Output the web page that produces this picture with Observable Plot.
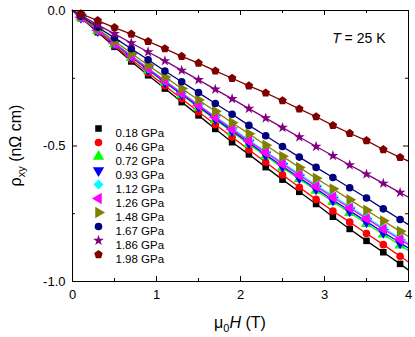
<!DOCTYPE html>
<html><head><meta charset="utf-8">
<script src="https://cdn.jsdelivr.net/npm/d3@7"></script>
<script src="https://cdn.jsdelivr.net/npm/@observablehq/plot@0.6"></script>
<style>
body{margin:0;background:#fff}
#chart{width:415px;height:337px}
</style>
</head><body><div id="chart"></div>
<script>
// field values (T)
const fieldT = [0.1,0.3,0.5,0.7,0.9,1.1,1.3,1.5,1.7,1.9,2.1,2.3,2.5,2.7,2.9,3.1,3.3,3.5,3.7,3.9];
const pressures = ["0.18 GPa","0.46 GPa","0.72 GPa","0.93 GPa","1.12 GPa","1.26 GPa","1.48 GPa","1.67 GPa","1.86 GPa","1.98 GPa"];
const colors = ["#000000","#ff0000","#00ff00","#0000ff","#00ffff","#ff00ff","#808000","#000080","#800080","#800000"];
const symbolNames = ["square","circle","triangleUp","triangleDown","diamond","triangleLeft","triangleRight","circle","star","pentagon"];
const symbolR = [3.7,3.8,4.2,4.2,4.0,4.2,4.2,3.8,3.4,3.9];
// rho_xy (nOhm cm)
const rho018 = [-0.027,-0.080,-0.134,-0.188,-0.239,-0.288,-0.338,-0.387,-0.437,-0.486,-0.531,-0.578,-0.624,-0.669,-0.714,-0.761,-0.806,-0.850,-0.892,-0.935];
const rho046 = [-0.026,-0.077,-0.129,-0.181,-0.230,-0.278,-0.326,-0.374,-0.421,-0.467,-0.514,-0.560,-0.606,-0.652,-0.697,-0.740,-0.781,-0.823,-0.864,-0.907];
const rho072 = [-0.025,-0.074,-0.124,-0.173,-0.220,-0.266,-0.312,-0.358,-0.403,-0.448,-0.493,-0.537,-0.580,-0.622,-0.664,-0.706,-0.746,-0.787,-0.826,-0.866];
const rho093 = [-0.025,-0.074,-0.123,-0.171,-0.218,-0.264,-0.309,-0.354,-0.399,-0.444,-0.488,-0.532,-0.575,-0.617,-0.658,-0.699,-0.739,-0.779,-0.818,-0.857];
const rho112 = [-0.024,-0.072,-0.120,-0.167,-0.213,-0.258,-0.303,-0.347,-0.391,-0.435,-0.478,-0.520,-0.562,-0.603,-0.644,-0.684,-0.724,-0.763,-0.802,-0.840];
const rho126 = [-0.025,-0.073,-0.121,-0.168,-0.214,-0.260,-0.305,-0.350,-0.394,-0.438,-0.482,-0.524,-0.566,-0.608,-0.649,-0.689,-0.729,-0.768,-0.807,-0.845];
const rho148 = [-0.023,-0.068,-0.113,-0.158,-0.202,-0.245,-0.288,-0.330,-0.372,-0.414,-0.455,-0.497,-0.538,-0.579,-0.619,-0.658,-0.698,-0.737,-0.776,-0.815];
const rho167 = [-0.021,-0.062,-0.101,-0.141,-0.182,-0.223,-0.263,-0.303,-0.343,-0.383,-0.424,-0.462,-0.502,-0.541,-0.579,-0.616,-0.654,-0.692,-0.732,-0.771];
const rho186 = [-0.018,-0.053,-0.086,-0.120,-0.153,-0.186,-0.221,-0.256,-0.291,-0.326,-0.362,-0.397,-0.432,-0.467,-0.502,-0.536,-0.570,-0.604,-0.638,-0.672];
const rho198 = [-0.012,-0.037,-0.063,-0.087,-0.114,-0.141,-0.169,-0.194,-0.223,-0.250,-0.278,-0.304,-0.333,-0.363,-0.392,-0.424,-0.453,-0.480,-0.513,-0.542];
// fit lines: start at origin, value at 4 T
const fitStart = {x: 0, y: 0};
const fitEndX = 4;
const fitEnd = [-0.958,-0.928,-0.886,-0.877,-0.859,-0.864,-0.834,-0.790,-0.689,-0.556];
// ticks
const xMajor = [0,1,2,3,4], xMinor = [0.5,1.5,2.5,3.5];
const yMajor = [0,-0.5,-1.0], yMinor = [-0.25,-0.75];

const allRho = [rho018,rho046,rho072,rho093,rho112,rho126,rho148,rho167,rho186,rho198];

// custom symbols
const s3 = Math.sqrt(3);
const sym = {
  square: d3.symbolSquare,
  circle: d3.symbolCircle,
  star: d3.symbolStar,
  triangleUp: {draw(c, size){const a=Math.sqrt(size/(s3*3)); c.moveTo(0,-2*a); c.lineTo(s3*a,a); c.lineTo(-s3*a,a); c.closePath();}},
  triangleDown: {draw(c, size){const a=Math.sqrt(size/(s3*3)); c.moveTo(0,2*a); c.lineTo(s3*a,-a); c.lineTo(-s3*a,-a); c.closePath();}},
  triangleLeft: {draw(c, size){const a=Math.sqrt(size/(s3*3)); c.moveTo(-2*a,0); c.lineTo(a,-s3*a); c.lineTo(a,s3*a); c.closePath();}},
  triangleRight: {draw(c, size){const a=Math.sqrt(size/(s3*3)); c.moveTo(2*a,0); c.lineTo(-a,-s3*a); c.lineTo(-a,s3*a); c.closePath();}},
  diamond: {draw(c, size){const r=Math.sqrt(size/2); c.moveTo(0,-r); c.lineTo(r,0); c.lineTo(0,r); c.lineTo(-r,0); c.closePath();}},
  pentagon: {draw(c, size){const R=Math.sqrt(size/(2.5*Math.sin(2*Math.PI/5))); for(let k=0;k<5;k++){const t=-Math.PI/2+k*2*Math.PI/5; const px=R*Math.cos(t), py=R*Math.sin(t); if(k===0)c.moveTo(px,py); else c.lineTo(px,py);} c.closePath();}}
};

const W = 415, H = 337, mL = 72, mR = 7, mT = 10, mB = 56;
const FW = W - mL - mR, FH = H - mT - mB;

const marks = [];
pressures.forEach((label, i) => {
  const pts = allRho[i].map((v, j) => ({x: fieldT[j], y: v}));
  const fit = [fitStart, ...pts, {x: fitEndX, y: fitEnd[i]}];
  marks.push(Plot.line(fit, {x: "x", y: "y", stroke: colors[i], strokeWidth: 1.3}));
  marks.push(Plot.dot(pts, {x: "x", y: "y", fill: colors[i], r: symbolR[i], symbol: sym[symbolNames[i]]}));
  marks.push(Plot.dot([label], {frameAnchor: "top-left", dx: 26, dy: 118 + 14 * i, fill: colors[i], r: symbolR[i], symbol: sym[symbolNames[i]]}));
  marks.push(Plot.text([label], {frameAnchor: "top-left", dx: 43, dy: 118 + 14 * i, text: d => d, textAnchor: "start", fontSize: 11.5, fill: "black"}));
});

const chart = Plot.plot({
  width: W, height: H,
  marginLeft: mL, marginRight: mR, marginTop: mT, marginBottom: mB,
  style: {fontFamily: "'Liberation Sans', Arial, sans-serif", fontSize: "13px", background: "white", color: "black"},
  x: {domain: [0, 4], label: null},
  y: {domain: [-1, 0], label: null},
  marks: [
    ...marks,
    Plot.frame({stroke: "black", strokeWidth: 1}),
    Plot.tickX(xMajor, {x: d => d, insetTop: FH - 5, stroke: "black"}),
    Plot.tickX(xMajor, {x: d => d, insetBottom: FH - 5, stroke: "black"}),
    Plot.tickX(xMinor, {x: d => d, insetTop: FH - 3, stroke: "black"}),
    Plot.tickX(xMinor, {x: d => d, insetBottom: FH - 3, stroke: "black"}),
    Plot.tickY(yMajor, {y: d => d, insetRight: FW - 5, stroke: "black"}),
    Plot.tickY(yMajor, {y: d => d, insetLeft: FW - 5, stroke: "black"}),
    Plot.tickY(yMinor, {y: d => d, insetRight: FW - 3, stroke: "black"}),
    Plot.tickY(yMinor, {y: d => d, insetLeft: FW - 3, stroke: "black"}),
    Plot.axisX({ticks: xMajor, tickSize: 0, tickPadding: 8, label: null, tickFormat: d => String(d)}),
    Plot.axisY({ticks: yMajor, tickSize: 0, tickPadding: 7, label: null, tickFormat: d => d.toFixed(1)}),
    Plot.text(["T = 25 K"], {frameAnchor: "top-right", dx: -23, dy: 23, text: d => d, textAnchor: "end", fontSize: 14, fill: "black"})
  ]
});
document.getElementById("chart").appendChild(chart);

const svg = d3.select(chart);
// italic T
svg.selectAll("text").filter(function(){ return this.textContent === "T = 25 K"; }).each(function(){
  const t = d3.select(this);
  const tp = t.select("tspan");
  const target = tp.empty() ? t : tp;
  target.text(null);
  target.append("tspan").attr("font-style", "italic").text("T");
  target.append("tspan").text(" = 25 K");
});
// x label
const xl = svg.append("text").attr("x", mL + FW / 2).attr("y", 328).attr("text-anchor", "middle")
  .attr("font-family", "'Liberation Sans', Arial, sans-serif").attr("font-size", 16).attr("fill", "black");
xl.append("tspan").text("μ");
xl.append("tspan").attr("font-size", 11).attr("dy", 4).text("0");
xl.append("tspan").attr("dy", -4).attr("font-style", "italic").text("H");
xl.append("tspan").text(" (T)");
// y label
const yl = svg.append("text").attr("transform", `translate(21,${mT + FH / 2}) rotate(-90)`).attr("text-anchor", "middle")
  .attr("font-family", "'Liberation Sans', Arial, sans-serif").attr("font-size", 16).attr("fill", "black");
yl.append("tspan").text("ρ");
yl.append("tspan").attr("font-size", 11).attr("dy", 4).text("xy");
yl.append("tspan").attr("dy", -4).text(" (nΩ cm)");
</script>
</body></html>
